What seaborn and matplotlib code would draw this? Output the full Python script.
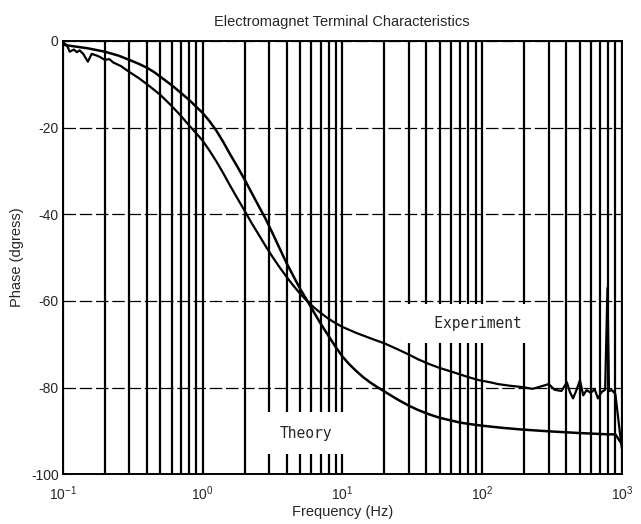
import matplotlib
matplotlib.use("Agg")
from matplotlib import pyplot as plt
from matplotlib import ticker
import seaborn as sns
import pandas as pd

# Electromagnet terminal characteristics - phase vs frequency

# theory curve
theory_freq = [0.1, 0.15, 0.2, 0.25, 0.3, 0.35, 0.4, 0.45, 0.5, 0.6, 0.7,
               0.8, 0.9, 1.0, 1.12, 1.26, 1.41, 1.57, 1.78, 2.0, 2.24, 2.51,
               2.82, 3.16, 3.55, 3.98, 4.47, 5.01, 5.62, 6.31, 7.08, 7.94,
               8.91, 10, 11.2, 12.6, 14.1, 15.8, 17.8, 20, 25, 30, 35, 42,
               50, 60, 70, 85, 100, 140, 195, 300, 500, 800, 900, 1000]
theory_phase = [-0.9, -1.7, -2.5, -3.4, -4.4, -5.3, -6.2, -7.2, -8.3, -10.2,
                -12.0, -13.6, -15.2, -16.6, -18.5, -20.8, -23.4, -26.1,
                -29.1, -32.0, -35.0, -38.0, -41.0, -44.3, -47.8, -51.2,
                -54.3, -57.3, -60.0, -62.8, -65.5, -68.0, -70.5, -72.8,
                -74.6, -76.2, -77.6, -78.8, -79.9, -80.9, -82.8, -84.2,
                -85.2, -86.2, -87.0, -87.6, -88.1, -88.5, -88.8, -89.3,
                -89.7, -90.1, -90.5, -90.8, -90.8, -93.0]

# experiment curve (noise included)
exp_freq = [0.1, 0.107, 0.112, 0.12, 0.126, 0.132, 0.14, 0.151, 0.161,
            0.175, 0.184, 0.2, 0.215, 0.23, 0.26, 0.3, 0.35, 0.4, 0.45, 0.5,
            0.6, 0.7, 0.8, 0.9, 1.0, 1.12, 1.26, 1.41, 1.58, 1.78, 2.0,
            2.24, 2.51, 2.82, 3.16, 3.55, 3.98, 4.47, 5.01, 5.62, 6.31,
            7.08, 7.94, 8.91, 10, 12.6, 15.8, 20, 25, 30, 35, 42, 50, 60,
            70, 80, 95, 115, 130, 160, 195, 230, 260, 300, 330, 370, 405,
            425, 448, 475, 502, 530, 560, 600, 640, 675, 720, 760, 790, 810,
            850, 900, 950, 1000]
exp_phase = [-0.3, -1.0, -2.5, -2.0, -2.6, -2.2, -3.0, -4.8, -3.0, -3.4,
             -3.7, -4.4, -4.2, -5.0, -5.8, -7.2, -8.6, -10.0, -11.3, -12.5,
             -15.0, -17.3, -19.5, -21.3, -23.0, -25.3, -27.9, -30.6, -33.5,
             -36.4, -39.2, -42.0, -44.6, -47.3, -49.8, -52.2, -54.4, -56.5,
             -58.4, -60.1, -61.6, -62.9, -64.1, -65.1, -66.0, -67.4, -68.6,
             -69.8, -71.2, -72.4, -73.5, -74.6, -75.5, -76.3, -77.0, -77.6,
             -78.3, -78.8, -79.2, -79.6, -79.9, -80.3, -79.8, -79.2, -80.5,
             -80.8, -78.8, -81.0, -82.5, -80.5, -78.3, -81.8, -80.6, -81.2,
             -80.4, -82.5, -81.0, -80.5, -57.0, -80.8, -80.6, -81.5, -88.0,
             -94.0]

yticks = [0, -20, -40, -60, -80, -100]

sns.set_style("white")
plt.rcParams['font.family'] = ['Liberation Sans', 'DejaVu Sans']
plt.rcParams['axes.unicode_minus'] = False

theory = pd.DataFrame({"freq": theory_freq, "phase": theory_phase})
expt = pd.DataFrame({"freq": exp_freq, "phase": exp_phase})

fig = plt.figure(figsize=(6.41, 5.24), dpi=100)
ax = fig.add_axes([0.098, 0.095, 0.872, 0.827])

sns.lineplot(data=theory, x="freq", y="phase", ax=ax, color="black",
             lw=1.8, sort=False, estimator=None)
sns.lineplot(data=expt, x="freq", y="phase", ax=ax, color="black",
             lw=1.6, sort=False, estimator=None)

ax.set_xscale("log")
ax.set_xlim(0.1, 1000)
ax.set_ylim(-100, 0)
ax.set_yticks(yticks)
ax.set_yticklabels([str(v) for v in yticks])
ax.xaxis.set_major_locator(ticker.LogLocator(base=10))
ax.xaxis.set_minor_locator(ticker.LogLocator(base=10, subs=range(2, 10)))
ax.xaxis.set_minor_formatter(ticker.NullFormatter())

ax.grid(which="both", axis="x", color="black", lw=1.6)
ax.grid(which="major", axis="y", color="black", lw=0.9,
        linestyle=(0, (10, 3)))
ax.tick_params(which="both", length=0, labelsize=10)
ax.tick_params(axis="x", pad=7)
ax.tick_params(axis="y", pad=3)
for sp in ax.spines.values():
    sp.set_color("black")
    sp.set_linewidth(1.4)

ax.set_title("Electromagnet Terminal Characteristics", fontsize=10.5, pad=11)
ax.set_xlabel("Frequency (Hz)", fontsize=10.5, labelpad=2)
ax.set_ylabel("Phase (dgress)", fontsize=10.5, labelpad=5)

# curve labels with white boxes that cut the grid
ax.text(192, -65.2, "   Experiment", fontsize=10.5,
        family="DejaVu Sans Mono", ha="right", va="center", zorder=5,
        bbox=dict(boxstyle="square,pad=0.8", fc="white", ec="none"))
ax.text(5.5, -90.5, "Theory", fontsize=10.5, family="DejaVu Sans Mono",
        ha="center", va="center", zorder=5,
        bbox=dict(boxstyle="square,pad=0.9", fc="white", ec="none"))

fig.savefig("out.png", dpi=100)
